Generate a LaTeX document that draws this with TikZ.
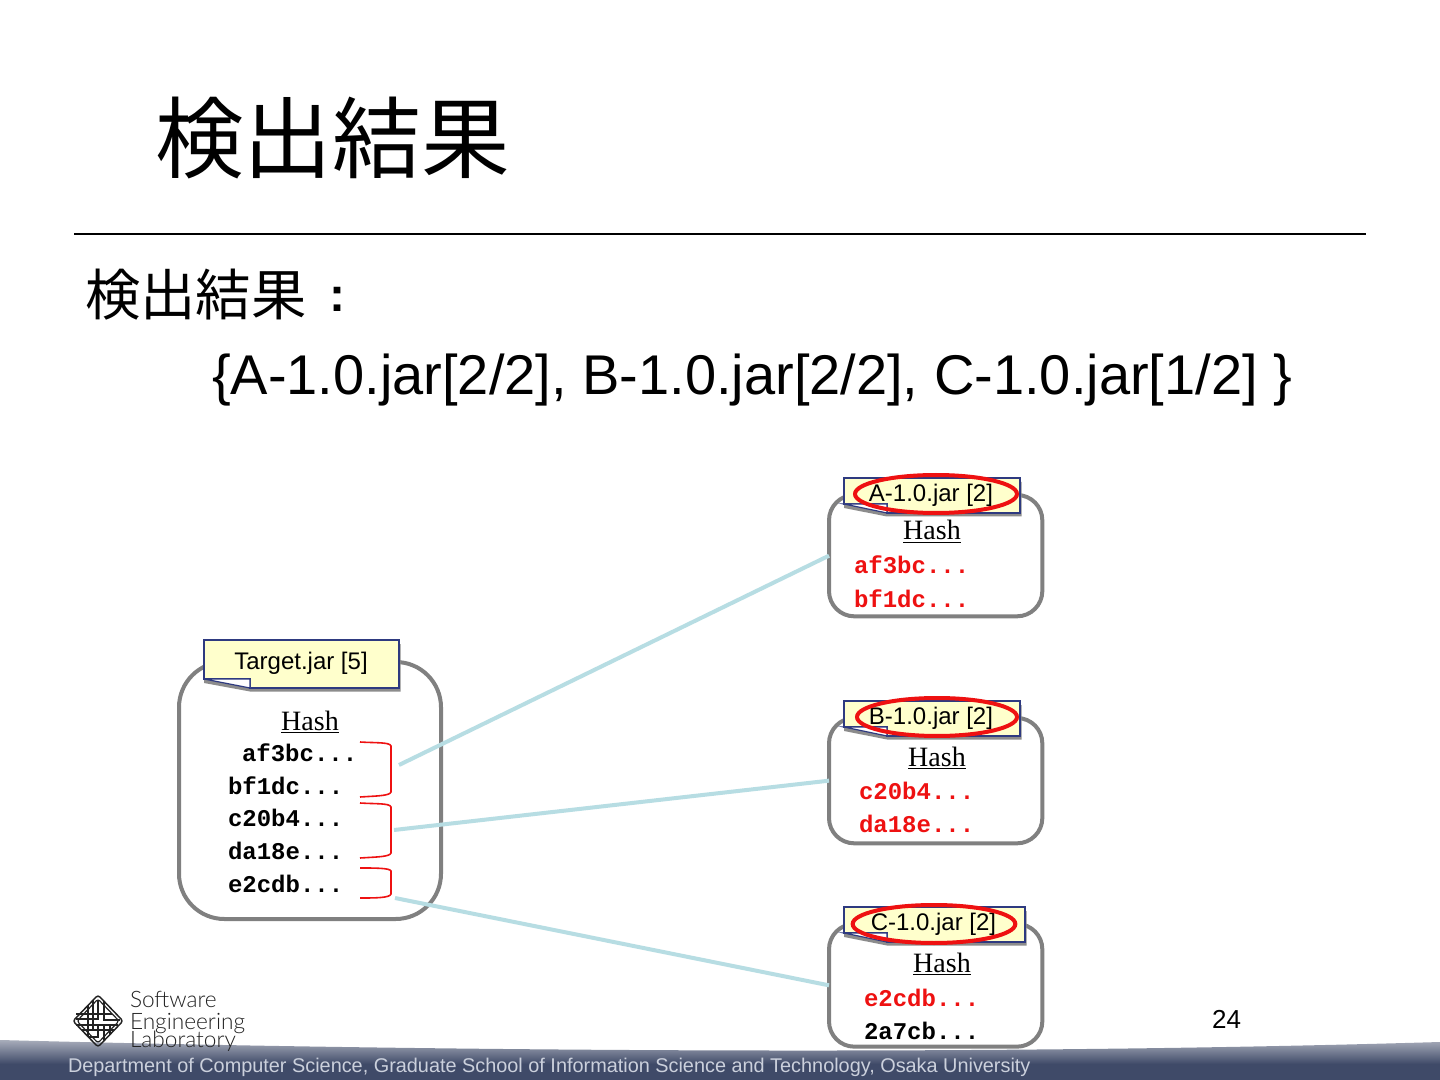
\documentclass[tikz,border=0pt]{standalone}
\usepackage{fontspec}
\setmainfont{Liberation Sans}
\newfontfamily\cjk{Noto Sans CJK JP}
\newfontfamily\seriff{Liberation Serif}
\newfontfamily\monof{Liberation Mono}
\newfontfamily\logof[UprightFont=* Light]{Lato}
\definecolor{bandc}{HTML}{3F4A68}
\definecolor{notey}{HTML}{FFFFCC}
\definecolor{noteb}{HTML}{2E3A80}
\definecolor{boxg}{HTML}{808080}
\definecolor{linkb}{HTML}{B7DDE3}
\definecolor{redm}{HTML}{EE1111}
\definecolor{foot}{HTML}{CBD0DC}
\definecolor{logog}{HTML}{222222}
\pgfdeclareverticalshading{bandshade}{100bp}{color(0bp)=(bandc); color(45bp)=(bandc); color(100bp)=(white)}
\tikzset{
 x=0.75pt,y=-0.75pt,
 every node/.style={inner sep=0pt,outer sep=0pt},
 filebox/.style={draw=boxg,line width=3pt,fill=white},
 link/.style={draw=linkb,line width=3pt},
 lbl/.style={font=\fontsize{18}{18}\selectfont,anchor=base},
 hashh/.style={font=\seriff\fontsize{21}{21}\selectfont,anchor=base},
 code/.style={font=\monof\bfseries\fontsize{18}{18}\selectfont,anchor=base west},
 bad/.style={code,text=redm},
 bracem/.style={draw=redm,line width=1.2pt},
 ring/.style={draw=redm,line width=3pt,ellipse},
 logoline/.style={draw=logog,line width=0.9pt}
}
\usetikzlibrary{shapes.geometric}
\newcommand{\notep}[6]{%
 \fill[black!45] (#1+2,#2+4) -- (#3+1.5,#2+4) -- (#3+1.5,#4+3.5) -- (#5,#4+3.5) -- (#1,#4-5) -- cycle;
 \path[fill=notey,draw=noteb,line width=0.9pt] (#1,#2) -- (#3,#2) -- (#3,#4) -- (#5,#4) -- (#5,#4-9) -- (#1,#4-9) -- cycle;
 \path[fill=white,draw=noteb,line width=0.9pt] (#1,#4-9) -- (#5,#4-9) -- (#5,#4) -- cycle;
 \coordinate (#6) at (#1,#2);
}
\begin{document}
\begin{tikzpicture}
\useasboundingbox (0,0) rectangle (1440,1080);
\fill[white] (0,0) rectangle (1440,1080);
% title
\node[anchor=base west,font=\cjk\fontsize{66.5}{66.5}\selectfont] (title) at (155,172) {検出結果};
\coordinate (ruleL) at (74,234);
\coordinate (ruleR) at (1366,234);
\draw[line width=1.5pt] (ruleL) -- (ruleR);
\node[anchor=base west,font=\cjk\fontsize{41.5}{41.5}\selectfont] (body1) at (85,316) {検出結果};
\node[anchor=base west,font=\bfseries\fontsize{36}{36}\selectfont] (colon) at (329,312) {:};
\node[anchor=base west,font=\fontsize{42}{42}\selectfont] (body2) at (212,395) {\{A-1.0.jar[2/2], B-1.0.jar[2/2], C-1.0.jar[1/2] \}};
% boxes
\node[filebox,rounded corners=34pt,anchor=north west,minimum width=196.5pt,minimum height=192.75pt] (target) at (179,662) {};
\node[filebox,rounded corners=19pt,anchor=north west,minimum width=160pt,minimum height=91pt] (boxA) at (829,495) {};
\node[filebox,rounded corners=19pt,anchor=north west,minimum width=160pt,minimum height=94pt] (boxB) at (829,718) {};
\node[filebox,rounded corners=19pt,anchor=north west,minimum width=160pt,minimum height=92pt] (boxC) at (829,924) {};
% links
\coordinate (t1) at (399,765);
\coordinate (t2) at (394,830);
\coordinate (t3) at (395,898);
\draw[link] (t1) -- (boxA.west);
\draw[link] (t2) -- (boxB.west);
\draw[link] (t3) -- (boxC.west);
% notes
\notep{204}{640}{399}{688}{250}{noteT}
\notep{844}{478}{1020}{513}{887}{noteA}
\notep{844}{701}{1020}{736}{887}{noteB}
\notep{844}{907}{1025}{942}{887}{noteC}
\node[lbl] (lT) at (301,669) {Target.jar [5]};
\node[lbl] (lA) at (931,502) {A-1.0.jar [2]};
\node[lbl] (lB) at (931,724) {B-1.0.jar [2]};
\node[lbl] (lC) at (933.5,930) {C-1.0.jar [2]};
\node[ring,minimum width=121.5pt,minimum height=28.5pt] (rA) at (936,494) {};
\node[ring,minimum width=120pt,minimum height=28.5pt] (rB) at (937,717) {};
\node[ring,minimum width=122pt,minimum height=28.5pt] (rC) at (934,924) {};
% hash tables
\node[hashh] (hT) at (310,730) {\underline{Hash}};
\node[code] (c1) at (242,761) {af3bc...};
\node[code] (c2) at (228,794) {bf1dc...};
\node[code] (c3) at (228,826) {c20b4...};
\node[code] (c4) at (228,859) {da18e...};
\node[code] (c5) at (228,892) {e2cdb...};
\node[hashh] (hA) at (932,540) {\underline{Hash}};
\node[bad] (a1) at (854,574) {af3bc...};
\node[bad] (a2) at (854,607.5) {bf1dc...};
\node[hashh] (hB) at (937,766) {\underline{Hash}};
\node[bad] (b1) at (859,799.5) {c20b4...};
\node[bad] (b2) at (859,832.5) {da18e...};
\node[hashh] (hC) at (942,972) {\underline{Hash}};
\node[bad] (cc1) at (864,1006.5) {e2cdb...};
\node[code] (cc2) at (864,1039.5) {2a7cb...};
% braces
\draw[bracem] (360,742) .. controls (375,743) and (390,742) .. (391,746) -- (391,792) .. controls (390,796) and (375,796) .. (360,797);
\draw[bracem] (360,803) .. controls (375,804) and (390,803) .. (391,807) -- (391,853) .. controls (390,857) and (375,857) .. (360,858);
\draw[bracem] (360,868) .. controls (375,868) and (390,868) .. (391,871) -- (391,894) .. controls (390,898) and (375,898) .. (360,898);
% band
\shade[shading=bandshade] (0,1040) .. controls (300,1048) and (900,1058) .. (1440,1042) -- (1440,1080) -- (0,1080) -- cycle;
\node[anchor=base west,text=foot,font=\fontsize{14.9}{14.9}\selectfont] (footer) at (68,1072) {Department of Computer Science, Graduate School of Information Science and Technology, Osaka University};
\node[anchor=base,font=\fontsize{19.5}{19.5}\selectfont] (pageno) at (1226.5,1028) {24};
% logo
\draw[logoline,line width=1.1pt,rounded corners=2pt] (98,995) -- (123,1021) -- (98,1047) -- (73,1021) -- cycle;
\draw[logoline,rounded corners=2pt] (98,999) -- (119,1021) -- (98,1043) -- (77,1021) -- cycle;
\draw[logoline] (88,1005) -- (88,1037) (93,1000) -- (93,1030) (98,1000) -- (98,1020) (104,1001) -- (104,1020) -- (120,1020)
 (76,1014) -- (112,1014) (76,1019) -- (99,1019) (76,1025) -- (118,1025) (82,1030) -- (114,1030) (88,1037) -- (98,1037) -- (98,1025) (104,1025) -- (104,1040) (110,1025) -- (110,1034);
\node[anchor=base west,text=logog,font=\logof\fontsize{17}{17}\selectfont] (lg1) at (130,1007) {Software};
\node[anchor=base west,text=logog,font=\logof\fontsize{17}{17}\selectfont] (lg2) at (130,1029) {Engineering};
\node[anchor=base west,text=logog,font=\logof\fontsize{17}{17}\selectfont] (lg3) at (130,1047) {Laboratory};
\end{tikzpicture}
\end{document}
